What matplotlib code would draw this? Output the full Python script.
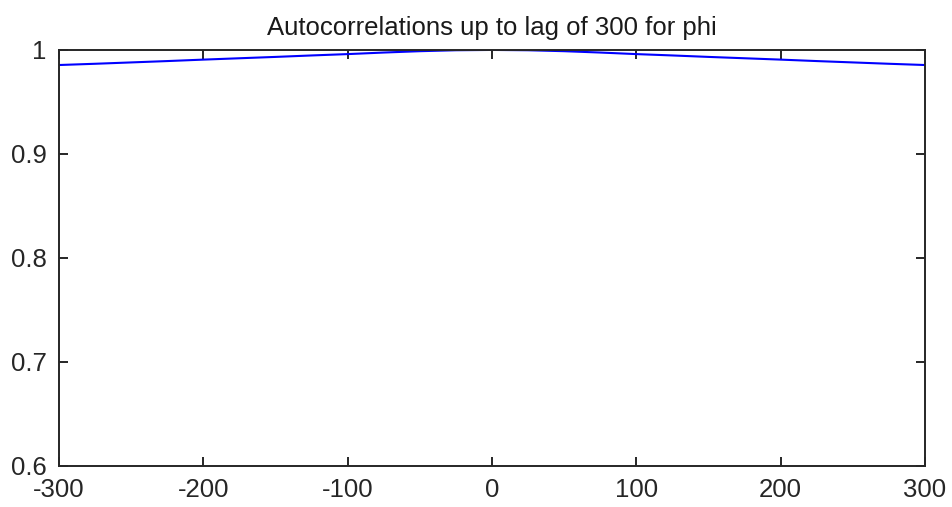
import matplotlib
matplotlib.use('Agg')
import matplotlib.pyplot as plt

# autocorrelation of the phi chain, lags -300..300
lags = [-300, -275, -250, -225, -200, -175, -150, -125, -100, -75, -50, -25,
        0, 25, 50, 75, 100, 125, 150, 175, 200, 225, 250, 275, 300]
acf = [0.9855, 0.9867, 0.9880, 0.9893, 0.9907, 0.9920, 0.9933, 0.9947,
       0.9960, 0.9975, 0.9988, 0.9997, 1.0000, 0.9997, 0.9988, 0.9975,
       0.9960, 0.9947, 0.9933, 0.9920, 0.9907, 0.9893, 0.9880, 0.9867,
       0.9855]
xticks = [-300, -200, -100, 0, 100, 200, 300]
yticks = [0.6, 0.7, 0.8, 0.9, 1.0]
ytick_labels = ['0.6', '0.7', '0.8', '0.9', '1']

plt.rcParams['font.family'] = ['Liberation Sans', 'DejaVu Sans']
plt.rcParams['axes.unicode_minus'] = False

fig = plt.figure(figsize=(9.52, 5.07), dpi=100)
ax = fig.add_axes([0.062, 0.081, 0.9096, 0.8205])

ax.plot(lags, acf, color='#0000ff', lw=1.5)

ax.set_xlim(-300, 300)
ax.set_ylim(0.6, 1.0)
ax.set_xticks(xticks)
ax.set_yticks(yticks)
ax.set_yticklabels(ytick_labels)
ax.tick_params(direction='in', length=6.5, width=1.4, labelsize=18.5,
               top=True, right=True, colors='#262626', pad=9)
ax.tick_params(axis='x', pad=9)
for s in ax.spines.values():
    s.set_linewidth(1.4)
    s.set_color('#262626')

ax.set_title('Autocorrelations up to lag of 300 for phi', fontsize=18.5,
             color='#1a1a1a', pad=11)

fig.savefig('out.png', dpi=100)
